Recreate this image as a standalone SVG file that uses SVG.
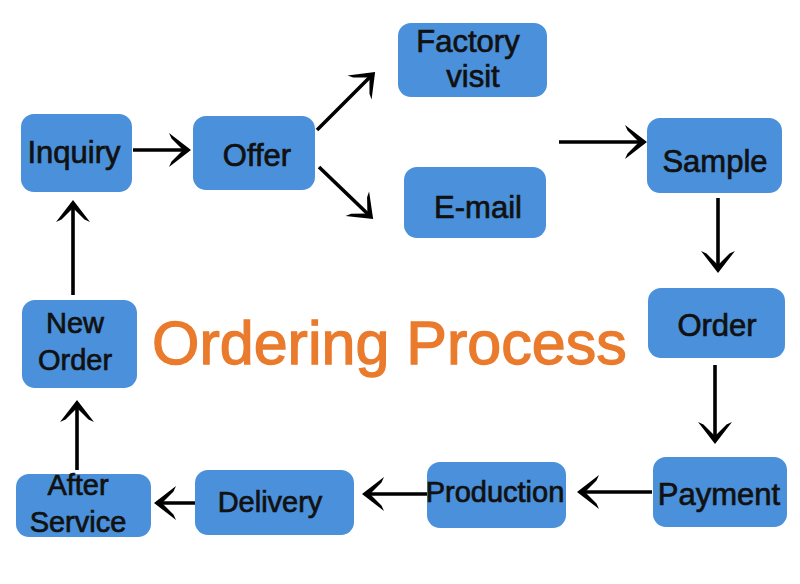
<svg xmlns="http://www.w3.org/2000/svg" width="800" height="584" viewBox="0 0 800 584">
<style>
.box{fill:#4A90DA;}
.t{font-family:"Liberation Sans",Arial,sans-serif;font-size:31px;fill:#111;stroke:#111;stroke-width:0.7;text-anchor:middle;}
.s{font-size:29px;}
.c{fill:none;stroke:#000;stroke-width:3.6;marker-end:url(#ah);}
.title{font-family:"Liberation Sans",Arial,sans-serif;font-size:61px;fill:#EA7A2C;stroke:#EA7A2C;stroke-width:1.3;}
</style>
<defs>
<marker id="ah" markerUnits="userSpaceOnUse" viewBox="-24 -19 28 38" refX="-3" refY="0" markerWidth="28" markerHeight="38" orient="auto">
<path d="M0,0 L-22,-17 L-19.5,-11.5 L-8,0 L-19.5,11.5 L-22,17 Z" fill="#000"/>
</marker>
</defs>
<rect width="800" height="584" fill="#fff"/>
<g id="connectors">
<path class="c" d="M133,150 H188"/>
<path class="c" d="M317,130 L373,74"/>
<path class="c" d="M319,167 L371,217"/>
<path class="c" d="M559,142 H644"/>
<path class="c" d="M718,198 V270"/>
<path class="c" d="M715,365 V441"/>
<path class="c" d="M652,492 H580"/>
<path class="c" d="M427,494 H365"/>
<path class="c" d="M195,503 H157"/>
<path class="c" d="M77,470 V403"/>
<path class="c" d="M73,295 V203"/>
</g>
<g id="inquiry"><rect class="box" x="21" y="114" width="111" height="78" rx="13"/><text class="t" x="74" y="163">Inquiry</text></g>
<g id="offer"><rect class="box" x="193" y="116" width="122" height="74" rx="13"/><text class="t" x="257" y="166">Offer</text></g>
<g id="factory-visit"><rect class="box" x="398" y="23" width="149" height="74" rx="13"/><text class="t" x="468" y="52">Factory</text><text class="t" x="473" y="87">visit</text></g>
<g id="email"><rect class="box" x="404" y="167" width="142" height="71" rx="13"/><text class="t" x="478" y="218">E-mail</text></g>
<g id="sample"><rect class="box" x="647" y="118" width="135" height="75" rx="13"/><text class="t" x="715" y="172">Sample</text></g>
<g id="order"><rect class="box" x="648" y="288" width="137" height="70" rx="13"/><text class="t" x="717" y="336">Order</text></g>
<g id="payment"><rect class="box" x="653" y="457" width="134" height="70" rx="13"/><text class="t" x="719" y="505">Payment</text></g>
<g id="production"><rect class="box" x="427" y="462" width="139" height="66" rx="13"/><text class="t s" x="495" y="502">Production</text></g>
<g id="delivery"><rect class="box" x="195" y="470" width="159" height="65" rx="13"/><text class="t s" x="270" y="512">Delivery</text></g>
<g id="after-service"><rect class="box" x="16" y="474" width="135" height="63" rx="13"/><text class="t s" x="78" y="495">After</text><text class="t s" x="78" y="532">Service</text></g>
<g id="new-order"><rect class="box" x="22" y="300" width="115" height="88" rx="13"/><text class="t s" x="75" y="333">New</text><text class="t s" x="75" y="370">Order</text></g>
<text class="title" x="152" y="364">Ordering Process</text>
</svg>
